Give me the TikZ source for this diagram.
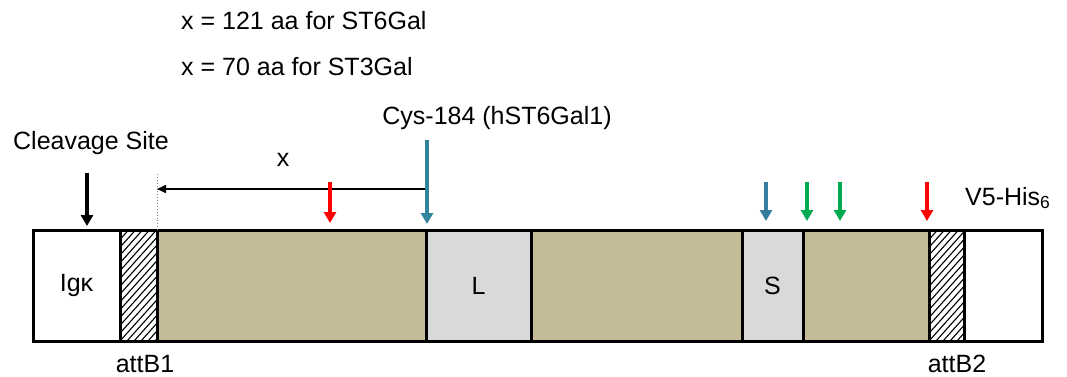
\documentclass[tikz,border=0pt]{standalone}
\usepackage{fontspec}
\setmainfont{Liberation Sans}
\usetikzlibrary{arrows.meta}
\definecolor{tanfill}{RGB}{196,187,152}
\definecolor{greyfill}{RGB}{217,217,217}
\definecolor{cysteal}{RGB}{49,132,155}
\definecolor{sblue}{RGB}{55,125,160}
\definecolor{mgreen}{RGB}{0,170,80}
\definecolor{mred}{RGB}{255,0,0}
\tikzset{
  seg/.style={draw=black, line width=3pt, minimum height=111pt, inner sep=0pt, anchor=north west, outer sep=0pt},
  hatchbox/.style={seg, fill=white, path picture={
     \foreach \i in {-25,...,25}
       \draw[line width=1.1pt] ([xshift=\i*7pt]path picture bounding box.south west) -- ++(130pt,145pt);}},
  marker/.style={line width=3.2pt, -{Triangle[width=12pt,length=11pt]}},
  lbl/.style={inner sep=0pt},
}
\begin{document}
\begin{tikzpicture}[x=1pt,y=-1pt, font=\fontsize{25}{29}\selectfont]
\useasboundingbox (0,0) rectangle (1067,377);
% segments
\node[seg, fill=white, minimum width=87pt] (igk) at (33,230) {Igκ};
\node[hatchbox, minimum width=37pt] (attA) at (120,230) {};
\node[seg, fill=tanfill, minimum width=269pt] (tanA) at (157,230) {};
\node[seg, fill=greyfill, minimum width=105pt] (L) at (426,230) {L};
\node[seg, fill=tanfill, minimum width=211pt] (tanB) at (531,230) {};
\node[seg, fill=greyfill, minimum width=61pt] (S) at (742,230) {S};
\node[seg, fill=tanfill, minimum width=126pt] (tanC) at (803,230) {};
\node[hatchbox, minimum width=35pt] (attB) at (929,230) {};
\node[seg, fill=white, minimum width=78pt] (v5) at (964,230) {};
% labels
\node[lbl, anchor=west] (t1) at (181,21) {x = 121 aa for ST6Gal};
\node[lbl, anchor=west] (t2) at (181,67) {x = 70 aa for ST3Gal};
\node[lbl] (cysl) at (497,118) {Cys-184 (hST6Gal1)};
\node[lbl] (cleav) at (91,143) {Cleavage Site};
\node[lbl] (xl) at (283,160) {x};
\node[lbl] (b1) at (145,364) {attB1};
\node[lbl] (b2) at (957,364) {attB2};
\node[lbl, anchor=base west] (v5l) at (965,205) {V5-His\textsubscript{6}};
% coordinates
\coordinate (cvS) at (87,173);   \coordinate (cvE) at (87,226);
\coordinate (cyS) at (427,140);  \coordinate (cyE) at (427,224);
\coordinate (r1S) at (330,182);  \coordinate (r1E) at (330,223);
\coordinate (bS) at (766,182);   \coordinate (bE) at (766,221);
\coordinate (g1S) at (807,182);  \coordinate (g1E) at (807,221);
\coordinate (g2S) at (840,182);  \coordinate (g2E) at (840,221);
\coordinate (r2S) at (927,182);  \coordinate (r2E) at (927,221);
\coordinate (hS) at (427,189);   \coordinate (hE) at (157,189);
\coordinate (dS) at (157,174);
% dimension
\draw[gray, dotted, line width=0.9pt] (dS) -- (tanA.north west);
\draw[line width=1.6pt, -{Triangle[width=8pt,length=9pt]}] (hS) -- (hE);
% arrows
\draw[marker, black] (cvS) -- (cvE);
\draw[marker, cysteal] (cyS) -- (cyE);
\draw[marker, mred] (r1S) -- (r1E);
\draw[marker, sblue] (bS) -- (bE);
\draw[marker, mgreen] (g1S) -- (g1E);
\draw[marker, mgreen] (g2S) -- (g2E);
\draw[marker, mred] (r2S) -- (r2E);
\end{tikzpicture}
\end{document}
